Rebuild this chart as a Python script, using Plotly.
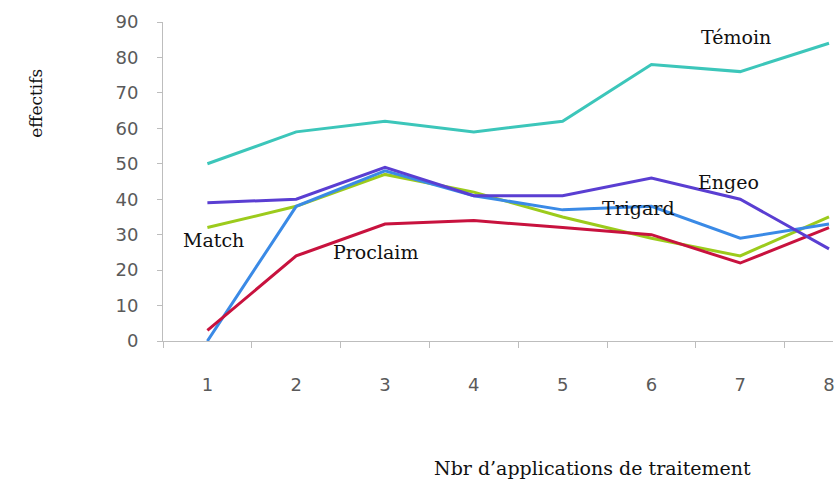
import plotly.graph_objects as go

# Number of treatment applications
applications = ["1", "2", "3", "4", "5", "6", "7", "8"]

# Population counts per treatment
temoin = [50, 59, 62, 59, 62, 78, 76, 84]
engeo = [39, 40, 49, 41, 41, 46, 40, 26]
trigard = [0, 38, 48, 41, 37, 38, 29, 33]
match = [32, 38, 47, 42, 35, 29, 24, 35]
proclaim = [3, 24, 33, 34, 32, 30, 22, 32]

y_ticks = [0, 10, 20, 30, 40, 50, 60, 70, 80, 90]

series = [
    ("Match", match, "#9CCB1C"),
    ("Trigard", trigard, "#3A8AE6"),
    ("Proclaim", proclaim, "#C8123E"),
    ("Engeo", engeo, "#5A3ED2"),
    ("Témoin", temoin, "#3CC6BA"),
]

fig = go.Figure()
for name, values, color in series:
    fig.add_trace(go.Scatter(
        x=applications, y=values, mode="lines", name=name,
        line=dict(color=color, width=3),
    ))

# Series labels placed next to their curves (category index, value units)
labels = [
    ("Témoin", 5.955, 85.8),
    ("Engeo", 5.87, 44.9),
    ("Trigard", 4.85, 37.5),
    ("Match", 0.07, 28.5),
    ("Proclaim", 1.89, 25.1),
]
serif = "DejaVu Serif"
for text, xi, yi in labels:
    fig.add_annotation(x=xi, y=yi, xref="x", yref="y", text=text,
                       showarrow=False, xanchor="center", yanchor="middle",
                       font=dict(family=serif, size=19, color="#111111"))

fig.add_annotation(xref="paper", yref="paper", x=0.641, y=-0.398,
                   xanchor="center", yanchor="middle",
                   text="Nbr d’applications de traitement", showarrow=False,
                   font=dict(family=serif, size=19, color="#111111"))
fig.add_annotation(xref="paper", yref="paper", x=-0.19, y=0.746,
                   xanchor="center", yanchor="middle",
                   text="effectifs", textangle=-90, showarrow=False,
                   font=dict(family=serif, size=17, color="#111111"))

fig.update_layout(
    width=835, height=490,
    margin=dict(l=163, r=0, t=22, b=149),
    paper_bgcolor="white", plot_bgcolor="white",
    showlegend=False,
    xaxis=dict(
        type="category", range=[-0.5, 7.045],
        showline=True, linecolor="#BDBDBD", linewidth=1,
        ticks="outside", tickson="boundaries", ticklen=6, tickcolor="#BDBDBD",
        showgrid=False, zeroline=False,
        ticklabelstandoff=27,
        tickfont=dict(family="DejaVu Sans", size=18, color="#5A5A5A"),
    ),
    yaxis=dict(
        range=[0, 90], tickvals=y_ticks,
        showline=True, linecolor="#BDBDBD", linewidth=1,
        ticks="outside", ticklen=5, tickcolor="#BDBDBD",
        showgrid=False, zeroline=False,
        ticklabelstandoff=15,
        tickfont=dict(family="DejaVu Sans", size=18, color="#5A5A5A"),
    ),
)

fig.write_html("out.html")
